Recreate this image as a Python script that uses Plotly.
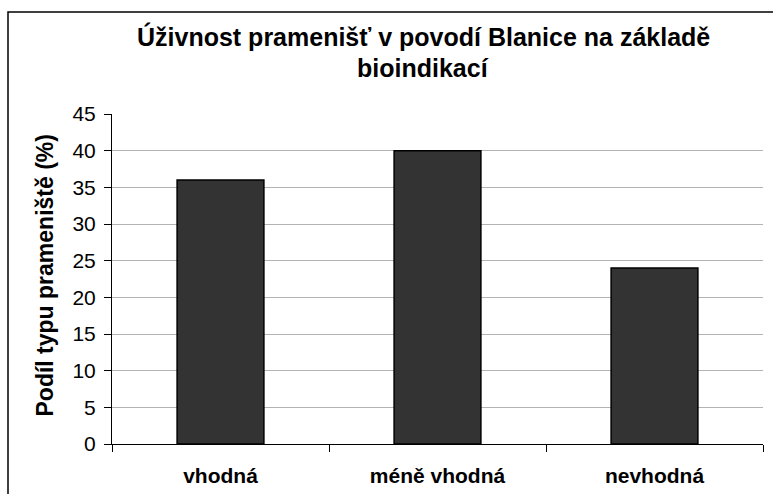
import plotly.graph_objects as go

categories = ["vhodná", "méně vhodná", "nevhodná"]
values = [36, 40, 24]
y_ticks = [0, 5, 10, 15, 20, 25, 30, 35, 40, 45]

title_line1 = "Úživnost pramenišť v povodí Blanice na základě"
title_line2 = "bioindikací"
y_title = "Podíl typu prameniště (%)"

FONT = "Liberation Sans, Arial, sans-serif"

fig = go.Figure(
    go.Bar(
        x=categories,
        y=values,
        width=0.4,
        marker=dict(color="#333333", line=dict(color="#000000", width=1.5)),
        hoverinfo="x+y",
    )
)

W, H = 773, 494
ml, mr, mt, mb = 112, 10, 114, 50
pw = W - ml - mr
ph = H - mt - mb


def px_x(x):
    return (x - ml) / pw


def px_y(y):
    return (H - mb - y) / ph


fig.update_layout(
    width=W,
    height=H,
    margin=dict(l=ml, r=mr, t=mt, b=mb, pad=0, autoexpand=False),
    paper_bgcolor="white",
    plot_bgcolor="white",
    showlegend=False,
    bargap=0.6,
    font=dict(family=FONT, color="black"),
    xaxis=dict(
        automargin=False,
        showline=True,
        linecolor="black",
        linewidth=1,
        ticks="outside",
        tickson="boundaries",
        ticklen=7,
        tickcolor="black",
        tickfont=dict(size=21, family=FONT, weight="bold", color="black"),
        ticklabelstandoff=13,
        showgrid=False,
        zeroline=False,
    ),
    yaxis=dict(
        automargin=False,
        range=[0, 45],
        tickvals=y_ticks,
        ticktext=[str(v) for v in y_ticks],
        showline=True,
        linecolor="black",
        linewidth=1,
        ticks="outside",
        ticklen=7,
        tickcolor="black",
        tickfont=dict(size=21, family=FONT, color="black"),
        ticklabelstandoff=4,
        showgrid=True,
        gridcolor="#b3b3b3",
        gridwidth=1,
        zeroline=False,
    ),
    annotations=[
        dict(
            text=title_line1,
            xref="paper", yref="paper",
            x=px_x(423), y=px_y(36.5),
            xanchor="center", yanchor="middle",
            showarrow=False,
            font=dict(size=25, family=FONT, weight="bold", color="black"),
        ),
        dict(
            text=title_line2,
            xref="paper", yref="paper",
            x=px_x(423), y=px_y(68),
            xanchor="center", yanchor="middle",
            showarrow=False,
            font=dict(size=25, family=FONT, weight="bold", color="black"),
        ),
        dict(
            text=y_title,
            xref="paper", yref="paper",
            x=px_x(44), y=px_y(275.5),
            xanchor="center", yanchor="middle",
            textangle=-90,
            showarrow=False,
            font=dict(size=23, family=FONT, weight="bold", color="black"),
        ),
    ],
    shapes=[
        dict(
            type="rect",
            xref="paper", yref="paper",
            x0=px_x(8), x1=px_x(900),
            y0=px_y(600), y1=px_y(12),
            line=dict(color="black", width=1.5),
            fillcolor="rgba(0,0,0,0)",
            layer="above",
        )
    ],
)

fig.write_html(
    "out.html",
    config={"displayModeBar": False},
    post_script="document.body.style.margin='0';document.body.style.overflow='hidden';",
)
